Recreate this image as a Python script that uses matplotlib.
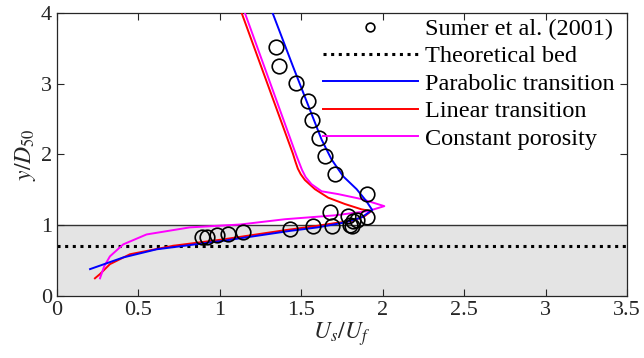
import matplotlib
matplotlib.use("Agg")
import matplotlib.pyplot as plt

# Sumer et al. (2001) measurements
sumer_x = [1.342, 1.365, 1.465, 1.539, 1.567, 1.61, 1.645, 1.707, 1.905,
           1.676, 1.79, 1.905, 1.84, 1.82, 1.80, 1.81, 1.686, 1.574, 1.43,
           1.14, 1.05, 0.98, 0.919, 0.888]
sumer_y = [3.52, 3.25, 3.01, 2.76, 2.49, 2.24, 1.98, 1.72, 1.44,
           1.19, 1.13, 1.11, 1.08, 1.06, 1.01, 0.99, 0.99, 0.99, 0.95,
           0.90, 0.87, 0.86, 0.83, 0.83]

# parabolic transition
para_x = [0.203, 0.407, 0.612, 1.02, 1.43, 1.60, 1.77, 1.87, 1.936,
          1.90, 1.84, 1.758, 1.686, 1.625, 1.45, 1.324]
para_y = [0.38, 0.545, 0.66, 0.78, 0.92, 0.97, 1.04, 1.11, 1.215,
          1.34, 1.51, 1.69, 1.93, 2.21, 3.24, 4.0]

# linear transition
lin_x = [0.233, 0.264, 0.325, 0.448, 0.714, 1.02, 1.40, 1.563, 1.707, 1.81,
         1.89, 1.93, 1.87, 1.768, 1.665, 1.584, 1.522, 1.497, 1.479, 1.464,
         1.449, 1.134]
lin_y = [0.25, 0.31, 0.45, 0.59, 0.71, 0.80, 0.93, 0.98, 1.03, 1.06,
         1.13, 1.20, 1.225, 1.30, 1.39, 1.51, 1.64, 1.72, 1.80, 1.90,
         2.01, 4.0]

# constant porosity
const_x = [0.264, 0.29, 0.325, 0.407, 0.55, 0.816, 1.123, 1.40, 1.707, 1.91,
           2.01, 1.87, 1.727, 1.625, 1.563, 1.527, 1.505, 1.488, 1.471, 1.154]
const_y = [0.25, 0.42, 0.56, 0.73, 0.87, 0.97, 1.01, 1.085, 1.14, 1.20,
           1.27, 1.37, 1.44, 1.48, 1.58, 1.68, 1.78, 1.88, 1.98, 4.0]

bed_level = 0.71
x_ticks = [0, 0.5, 1, 1.5, 2, 2.5, 3, 3.5]
x_tick_labels = ["0", "0.5", "1", "1.5", "2", "2.5", "3", "3.5"]
y_ticks = [0, 1, 2, 3, 4]

plt.rcParams["font.family"] = ["Liberation Serif", "DejaVu Serif"]
plt.rcParams["mathtext.fontset"] = "stix"
plt.rcParams["font.size"] = 16

fig = plt.figure(figsize=(6.44, 3.58), dpi=100)
ax = fig.add_axes([0.0885, 0.1732, 0.885, 0.7905])

ax.axhspan(0, 1, facecolor="#e4e4e4", edgecolor="none", zorder=0)
ax.axhline(1, color="#333333", lw=1.0, zorder=1)

ax.plot(sumer_x, sumer_y, "o", mfc="none", mec="k", ms=10.5, mew=1.2,
        label="Sumer et al. (2001)", zorder=5)
ax.axhline(bed_level, color="k", ls=(0, (1, 1.5)), lw=2.2,
           label="Theoretical bed", zorder=2)
ax.plot(para_x, para_y, color="#0000ff", lw=1.4, label="Parabolic transition", zorder=4)
ax.plot(lin_x, lin_y, color="#ff0000", lw=1.4, label="Linear transition", zorder=3)
ax.plot(const_x, const_y, color="#ff00ff", lw=1.4, label="Constant porosity", zorder=3)

ax.set_xlim(0, 3.5)
ax.set_ylim(0, 4)
ax.set_xticks(x_ticks)
ax.set_xticklabels(x_tick_labels)
ax.set_yticks(y_ticks)
ax.tick_params(direction="in", top=True, right=True, length=5, width=0.8,
               labelsize=16, colors="#262626")
for s in ax.spines.values():
    s.set_linewidth(0.9)
    s.set_color("#262626")

ax.set_xlabel(r"$U_s/U_f$", fontsize=17, labelpad=0, color="#262626")
ax.set_ylabel(r"$y/D_{50}$", fontsize=17, labelpad=2, color="#262626")

leg = ax.legend(loc="upper right", bbox_to_anchor=(1.0, 1.025), frameon=False,
                handlelength=3.9, handletextpad=0.3, labelspacing=0.22,
                markerscale=0.6, borderaxespad=0.1, fontsize=17.5)

fig.savefig("out.png", dpi=100)
